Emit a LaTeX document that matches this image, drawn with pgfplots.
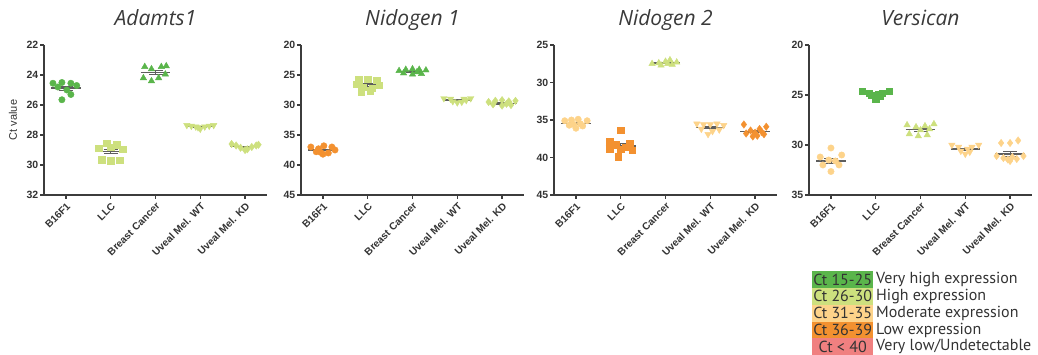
\documentclass[border=0pt]{standalone}
\usepackage{fontspec}
\setmainfont{Liberation Sans}
\newfontfamily\titlefam{Open Sans}
\newfontfamily\legfam{PT Sans}
\usepackage{pgfplots}
\pgfplotsset{compat=1.18}
\definecolor{cG}{HTML}{5AB54B}
\definecolor{cLG}{HTML}{CDE07E}
\definecolor{cLO}{HTML}{FDD38A}
\definecolor{cO}{HTML}{F39130}
\definecolor{cR}{HTML}{F08080}
\definecolor{axisgray}{HTML}{3C3C3C}
\definecolor{titlegray}{HTML}{3A3A3A}
\definecolor{meangray}{HTML}{5E5E5E}
\definecolor{txtgray}{HTML}{333333}
\pgfplotsset{
  /pgf/number format/assume math mode=true,
  panel/.style={
    scale only axis, width=223pt, height=150pt,
    y dir=reverse,
    axis x line=bottom, axis y line=left,
    axis line style={-, line width=1.3pt, color=axisgray},
    xmin=-0.49, xmax=4.49,
    xtick={0,1,2,3,4},
    xticklabels={B16F1, LLC, Breast Cancer, Uveal Mel. WT, Uveal Mel. KD},
    xticklabel style={rotate=45, anchor=north east, inner sep=2pt, font=\bfseries\fontsize{10.2}{11}\selectfont, color=txtgray},
    yticklabel style={inner sep=1.5pt, font=\bfseries\fontsize{10.5}{12}\selectfont, color=txtgray},
    tick align=outside, major tick length=4pt,
    tick style={line width=1.2pt, color=axisgray},
    title style={at={(0.5,1)}, anchor=base, yshift=13pt, font=\titlefam\itshape\fontsize{21}{24}\selectfont, color=titlegray},
    clip=false,
  },
  mC/.style={only marks, mark=*, mark size=3.2pt},
  mS/.style={only marks, mark=square*, mark size=3.2pt},
  mT/.style={only marks, mark=triangle*, mark size=3.7pt},
  mV/.style={only marks, mark=triangle*, mark size=3.7pt, mark options={rotate=180}},
  mD/.style={only marks, mark=diamond*, mark size=3.7pt},
  meanline/.style={mark=none, color=meangray, line width=1.5pt},
  sem/.style={mark=none, draw=none, color=meangray, error bars/.cd, y dir=both, y explicit,
    error bar style={draw=meangray, line width=0.8pt},
    error mark=-,
    error mark options={rotate=90, draw=meangray, line width=0.8pt, mark size=7pt}},
}
\begin{document}
\begin{tikzpicture}[x=1pt,y=1pt]
\useasboundingbox (0,0) rectangle (1038,355);
% ---------------- Adamts1 ----------------
\begin{axis}[panel, at={(44pt,160pt)}, anchor=south west, title={Adamts1},
  ymin=22, ymax=32, ytick={22,24,26,28,30,32},
  ylabel={Ct value}, ylabel style={at={(axis description cs:-0.139,0.5)}, anchor=center, font=\fontsize{11}{12}\selectfont, color=txtgray}]
\addplot[mC, color=cG] coordinates {(-0.29,24.55) (-0.09,24.5) (0.11,24.55) (0.24,24.7) (-0.18,24.8) (0.02,25.0) (0.11,25.3) (-0.09,25.65)};
\addplot[mS, color=cLG] coordinates {(0.91,28.55) (1.13,28.65) (0.73,28.9) (1.0,28.8) (1.27,28.95) (0.8,29.65) (1.0,29.72) (1.2,29.7)};
\addplot[mT, color=cG] coordinates {(1.76,23.45) (1.91,23.6) (2.13,23.45) (2.24,23.4) (1.73,24.2) (1.91,24.4) (2.07,24.2) (2.22,23.95)};
\addplot[mV, color=cLG] coordinates {(2.7,27.35) (3.3,27.35) (2.8,27.4) (3.2,27.4) (2.95,27.5) (3.0,27.6) (3.1,27.45) (2.9,27.45)};
\addplot[mD, color=cLG] coordinates {(3.7,28.6) (3.8,28.7) (3.9,28.85) (4.0,29.0) (4.05,28.95) (4.15,28.8) (4.25,28.7) (4.3,28.65)};
\addplot[meanline] coordinates {(-0.33,24.88) (0.33,24.88)};
\addplot[meanline] coordinates {(0.67,29.1) (1.33,29.1)};
\addplot[meanline] coordinates {(1.67,23.83) (2.33,23.83)};
\addplot[meanline] coordinates {(2.67,27.44) (3.33,27.44)};
\addplot[meanline] coordinates {(3.67,28.78) (4.33,28.78)};
\addplot[sem] coordinates {(0,24.88) +- (0,0.14) (1,29.1) +- (0,0.16) (2,23.83) +- (0,0.13) (3,27.44) +- (0,0.03) (4,28.78) +- (0,0.05)};
\end{axis}
% ---------------- Nidogen 1 ----------------
\begin{axis}[panel, at={(301pt,160pt)}, anchor=south west, title={Nidogen 1},
  ymin=20, ymax=45, ytick={20,25,30,35,40,45}]
\addplot[mC, color=cO] coordinates {(-0.27,37.0) (-0.1,37.3) (0.02,36.8) (0.2,37.0) (0.27,37.5) (-0.15,37.8) (0.0,38.2) (0.12,38.0) (-0.05,37.9)};
\addplot[mS, color=cLG] coordinates {(0.8,25.8) (1.0,25.7) (1.2,25.9) (0.75,26.5) (1.25,26.7) (0.9,27.0) (1.1,27.2) (0.85,27.8) (1.05,27.6)};
\addplot[mT, color=cG] coordinates {(1.7,24.3) (1.85,24.1) (2.0,24.0) (2.15,24.1) (2.3,24.2) (1.8,24.7) (2.0,24.9) (2.2,24.8) (2.1,24.5)};
\addplot[mV, color=cLG] coordinates {(2.7,28.9) (2.85,29.0) (3.15,29.0) (3.3,28.9) (2.9,29.4) (3.0,29.6) (3.1,29.5) (3.2,29.2)};
\addplot[mD, color=cLG] coordinates {(3.7,29.5) (3.85,29.3) (4.0,29.2) (4.15,29.4) (4.3,29.3) (3.8,29.9) (4.0,30.1) (4.2,30.0) (4.1,29.8)};
\addplot[meanline] coordinates {(-0.33,37.5) (0.33,37.5)};
\addplot[meanline] coordinates {(0.67,26.6) (1.33,26.6)};
\addplot[meanline] coordinates {(1.67,24.45) (2.33,24.45)};
\addplot[meanline] coordinates {(2.67,29.2) (3.33,29.2)};
\addplot[meanline] coordinates {(3.67,29.72) (4.33,29.72)};
\addplot[sem] coordinates {(0,37.5) +- (0,0.15) (1,26.6) +- (0,0.25) (2,24.45) +- (0,0.1) (3,29.2) +- (0,0.09) (4,29.72) +- (0,0.1)};
\end{axis}
% ---------------- Nidogen 2 ----------------
\begin{axis}[panel, at={(554pt,160pt)}, anchor=south west, title={Nidogen 2},
  ymin=25, ymax=45, ytick={25,30,35,40,45}]
\addplot[mC, color=cLO] coordinates {(-0.25,35.1) (-0.1,35.0) (0.05,34.9) (0.25,35.1) (-0.15,35.7) (0.0,36.1) (0.15,35.8) (0.1,35.5) (-0.05,35.6)};
\addplot[mS, color=cO] coordinates {(1.0,36.4) (0.75,37.9) (1.2,38.1) (0.9,38.3) (1.1,38.6) (0.75,38.9) (1.25,39.0) (1.0,38.9) (0.95,39.9)};
\addplot[mT, color=cLG] coordinates {(1.7,27.5) (1.85,27.4) (2.0,27.2) (2.1,27.0) (2.25,27.3) (1.9,27.7) (2.15,27.6) (2.05,27.5)};
\addplot[mV, color=cLO] coordinates {(2.7,35.5) (2.85,35.6) (3.0,35.6) (3.15,35.5) (3.3,35.7) (2.8,36.2) (3.05,36.5) (2.95,36.9) (3.2,36.3)};
\addplot[mD, color=cO] coordinates {(3.75,35.6) (4.25,35.9) (4.1,36.2) (3.9,36.4) (4.0,36.7) (3.8,36.8) (4.2,36.9) (4.05,37.1) (3.95,37.2) (4.15,36.6)};
\addplot[meanline] coordinates {(-0.33,35.45) (0.33,35.45)};
\addplot[meanline] coordinates {(0.67,38.44) (1.33,38.44)};
\addplot[meanline] coordinates {(1.67,27.4) (2.33,27.4)};
\addplot[meanline] coordinates {(2.67,35.98) (3.33,35.98)};
\addplot[meanline] coordinates {(3.67,36.54) (4.33,36.54)};
\addplot[sem] coordinates {(0,35.45) +- (0,0.13) (1,38.44) +- (0,0.3) (2,27.4) +- (0,0.08) (3,35.98) +- (0,0.17) (4,36.54) +- (0,0.16)};
\end{axis}
% ---------------- Versican ----------------
\begin{axis}[panel, at={(809pt,160pt)}, anchor=south west, title={Versican},
  ymin=20, ymax=35, ytick={20,25,30,35}]
\addplot[mC, color=cLO] coordinates {(0.0,30.3) (-0.24,31.2) (0.24,31.0) (-0.18,32.0) (0.18,32.0) (0.0,32.65) (-0.05,31.5) (0.1,31.6)};
\addplot[mS, color=cG] coordinates {(0.7,24.6) (0.85,24.8) (1.15,24.8) (1.3,24.6) (0.9,25.0) (1.0,25.4) (1.1,25.1) (1.05,24.9)};
\addplot[mT, color=cLG] coordinates {(1.7,28.0) (1.9,28.2) (2.1,28.1) (2.3,27.9) (1.75,28.9) (1.95,29.1) (2.15,29.0) (2.0,28.5) (2.2,28.4)};
\addplot[mV, color=cLO] coordinates {(2.7,30.0) (2.85,30.2) (3.15,30.2) (3.3,30.0) (2.9,30.6) (3.0,30.9) (3.1,30.7) (3.05,30.4)};
\addplot[mD, color=cLO] coordinates {(3.8,29.8) (4.0,29.8) (4.18,29.55) (3.7,31.1) (3.85,31.3) (4.0,31.6) (4.15,31.4) (4.3,31.1) (4.05,31.2) (3.95,31.45)};
\addplot[meanline] coordinates {(-0.33,31.6) (0.33,31.6)};
\addplot[meanline] coordinates {(0.67,24.9) (1.33,24.9)};
\addplot[meanline] coordinates {(1.67,28.46) (2.33,28.46)};
\addplot[meanline] coordinates {(2.67,30.4) (3.33,30.4)};
\addplot[meanline] coordinates {(3.67,30.9) (4.33,30.9)};
\addplot[sem] coordinates {(0,31.6) +- (0,0.25) (1,24.9) +- (0,0.09) (2,28.46) +- (0,0.14) (3,30.4) +- (0,0.1) (4,30.9) +- (0,0.25)};
\end{axis}
% ---------------- Legend ----------------
\begin{scope}[every node/.style={inner sep=0pt, font=\legfam\fontsize{16}{17}\selectfont, text=txtgray}]
\node[fill=cG, minimum width=61pt, minimum height=16.8pt, anchor=west] at (812,75.4) {Ct 15-25};
\node[anchor=west] at (876,75.4) {Very high expression};
\node[fill=cLG, minimum width=61pt, minimum height=16.8pt, anchor=west] at (812,58.6) {Ct 26-30};
\node[anchor=west] at (876,58.6) {High expression};
\node[fill=cLO, minimum width=61pt, minimum height=16.8pt, anchor=west] at (812,41.8) {Ct 31-35};
\node[anchor=west] at (876,41.8) {Moderate expression};
\node[fill=cO, minimum width=61pt, minimum height=16.8pt, anchor=west] at (812,25.0) {Ct 36-39};
\node[anchor=west] at (876,25.0) {Low expression};
\node[fill=cR, minimum width=61pt, minimum height=16.8pt, anchor=west] at (812,8.2) {Ct < 40};
\node[anchor=west] at (876,8.2) {Very low/Undetectable};
\end{scope}
\end{tikzpicture}
\end{document}
